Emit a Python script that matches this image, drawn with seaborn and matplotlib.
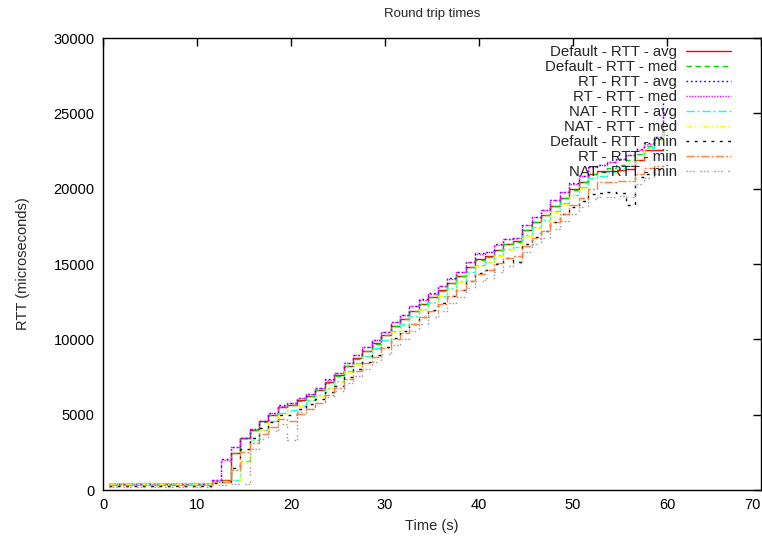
import numpy as np
import pandas as pd
import matplotlib
matplotlib.use("Agg")
import matplotlib.pyplot as plt
import seaborn as sns

# ---------------- data ----------------
time_s = [0.6, 1.6, 2.6, 3.6, 4.6, 5.6, 6.6, 7.6, 8.6, 9.6,
          10.6, 11.6, 12.6, 13.6, 14.6, 15.6, 16.6, 17.6, 18.6, 19.6,
          20.6, 21.6, 22.6, 23.6, 24.6, 25.6, 26.6, 27.6, 28.6, 29.6,
          30.6, 31.6, 32.6, 33.6, 34.6, 35.6, 36.6, 37.6, 38.6, 39.6,
          40.6, 41.6, 42.6, 43.6, 44.6, 45.6, 46.6, 47.6, 48.6, 49.6,
          50.6, 51.6, 52.6, 53.6, 54.6, 55.6, 56.6, 57.6, 58.6, 59.6]

default_avg = [400, 395, 405, 400, 398, 402, 400, 396, 404, 400,
               402, 620, 640, 2480, 3450, 4000, 4550, 5000, 5500, 5650,
               5950, 6250, 6650, 7150, 7600, 8250, 8750, 9250, 9750, 10300,
               10900, 11350, 11900, 12350, 12800, 13250, 13750, 14200, 14800, 15300,
               15500, 15950, 16350, 16500, 17250, 17800, 18250, 18850, 19400, 19950,
               20450, 21000, 21150, 21200, 21250, 21300, 21900, 22550, 22550, 22600]
default_med = [395, 390, 400, 395, 395, 400, 395, 390, 400, 395,
               400, 610, 630, 2450, 3420, 3980, 4520, 4980, 5480, 5620,
               5930, 6230, 6620, 7120, 7580, 8230, 8720, 9230, 9720, 10280,
               10880, 11330, 11880, 12330, 12780, 13230, 13730, 14180, 14780, 15280,
               15480, 15930, 16330, 16480, 17230, 17780, 18230, 18830, 19380, 19930,
               20430, 20980, 21130, 21350, 21600, 21900, 22300, 22800, 23300, 24200]
rt_avg = [430, 420, 425, 410, 430, 420, 415, 430, 425, 420,
          430, 650, 2050, 2870, 3470, 4050, 4600, 5100, 5640, 5770,
          6100, 6370, 6800, 7350, 7780, 8450, 8950, 9490, 9950, 10500,
          11170, 11610, 12200, 12650, 13050, 13540, 14050, 14490, 15150, 15700,
          15800, 16300, 16650, 16750, 17600, 18150, 18580, 19240, 19800, 20350,
          20840, 21450, 21570, 21780, 22000, 22230, 22600, 23000, 23440, 25700]
rt_med = [420, 415, 420, 405, 425, 415, 410, 425, 420, 415,
          425, 640, 2000, 2850, 3450, 4020, 4580, 5080, 5600, 5750,
          6080, 6350, 6780, 7320, 7760, 8420, 8930, 9470, 9930, 10480,
          11150, 11590, 12180, 12630, 13030, 13520, 14030, 14470, 15130, 15680,
          15780, 16280, 16630, 16730, 17580, 18130, 18560, 19220, 19780, 20330,
          20820, 21430, 21550, 21760, 21980, 22210, 22580, 22980, 23420, 25400]
nat_avg = [410, 405, 400, 405, 410, 400, 405, 410, 400, 405,
           410, 600, 620, 650, 1900, 3300, 4000, 4550, 5100, 5300,
           5600, 5950, 6300, 6800, 7250, 7900, 8400, 8900, 9400, 9950,
           10550, 11000, 11550, 12000, 12450, 12900, 13400, 13850, 14450, 14950,
           15150, 15600, 16000, 16150, 16900, 17450, 17900, 18500, 19050, 19600,
           20100, 20700, 20850, 21100, 21350, 21600, 22000, 22700, 23300, 24000]
nat_med = [400, 395, 390, 395, 400, 390, 395, 400, 395, 400,
           395, 590, 610, 640, 1850, 3250, 3950, 4500, 5050, 5250,
           5550, 5900, 6250, 6750, 7200, 7850, 8350, 8850, 9350, 9900,
           10500, 10950, 11500, 11950, 12400, 12850, 13350, 13800, 14400, 14900,
           15100, 15550, 15950, 16100, 16850, 17400, 17850, 18450, 19000, 19550,
           20050, 20650, 20800, 21050, 21300, 21550, 21950, 22600, 23200, 23800]
default_min = [290, 280, 285, 290, 280, 285, 290, 280, 285, 290,
               280, 480, 520, 1450, 2700, 3450, 4100, 4500, 4950, 5000,
               5400, 5700, 6050, 6500, 6900, 7500, 8000, 8500, 8950, 9500,
               10100, 10550, 11050, 11500, 11950, 12400, 12900, 13300, 13900, 14400,
               14600, 15000, 15400, 15100, 16300, 16800, 17200, 17800, 18300, 18800,
               19200, 19650, 19700, 19750, 19700, 18900, 20800, 21000, 21300, 21500]
rt_min = [320, 310, 315, 305, 320, 310, 315, 305, 320, 310,
          315, 500, 560, 1330, 2550, 3100, 3700, 4200, 4700, 4550,
          5050, 5400, 5800, 6300, 6750, 7400, 7900, 8400, 8850, 9400,
          10000, 10450, 11000, 11450, 11900, 12350, 12850, 13300, 13850, 14350,
          14600, 15050, 15400, 15550, 16200, 16750, 17200, 17800, 18350, 18900,
          19400, 20000, 20450, 20460, 20480, 20500, 21000, 21400, 21500, 21600]
nat_min = [230, 220, 225, 215, 230, 220, 225, 215, 230, 220,
           225, 300, 320, 380, 420, 2700, 3400, 3900, 4400, 3300,
           5200, 5400, 5750, 6150, 6550, 7100, 7550, 8050, 8500, 9050,
           9600, 10050, 10550, 11000, 11450, 11900, 12400, 12800, 13400, 13900,
           14100, 14500, 14900, 15050, 15800, 16300, 16750, 17350, 17850, 18350,
           18800, 19300, 19450, 19470, 19500, 19470, 20300, 20700, 21000, 21200]

series_names = ["Default - RTT - avg", "Default - RTT - med", "RT - RTT - avg",
                "RT - RTT - med", "NAT - RTT - avg", "NAT - RTT - med",
                "Default - RTT - min", "RT - RTT - min", "NAT - RTT - min"]
series_values = [default_avg, default_med, rt_avg, rt_med, nat_avg, nat_med,
                 default_min, rt_min, nat_min]

colors = ["#ff0000", "#00e000", "#0000ff", "#ff00ff", "#00ffff",
          "#ffff00", "#000000", "#ff8040", "#a0a0a0"]
dash_styles = ["", (4, 2.5), (1.2, 2), (1, 1), (6, 2, 1.5, 2),
               (4, 2, 1, 2, 1, 2), (2, 4), (6, 1.5, 1.5, 1.5), (1.2, 1.2, 1.2, 1.2, 1.2, 4)]

rows = []
for name, vals in zip(series_names, series_values):
    for t, v in zip(time_s, vals):
        rows.append({"time": t, "rtt": v, "series": name})
df = pd.DataFrame(rows)

# ---------------- plot ----------------
sns.set_style("white")
plt.rcParams["font.family"] = ["Liberation Sans", "DejaVu Sans"]
plt.rcParams["font.size"] = 10

fig = plt.figure(figsize=(7.62, 5.40), dpi=100)
ax = fig.add_axes([103 / 762, 1 - 490 / 540, 658 / 762, 452 / 540])

sns.lineplot(data=df, x="time", y="rtt", hue="series", style="series",
             hue_order=series_names, style_order=series_names,
             palette=dict(zip(series_names, colors)),
             dashes=dict(zip(series_names, dash_styles)),
             drawstyle="steps-post", estimator=None, errorbar=None,
             linewidth=1.0, ax=ax)

ax.set_xlim(0, 70)
ax.set_ylim(0, 30000)
ax.set_xticks(np.arange(0, 71, 10))
ax.set_yticks(np.arange(0, 30001, 5000))
ax.tick_params(direction="in", length=6, width=1, top=True, right=True,
               labelsize=10.5, colors="black", pad=6)
for sp in ax.spines.values():
    sp.set_color("black")
    sp.set_linewidth(1.0)
ax.set_xlabel("Time (s)", fontsize=10.5, labelpad=5)
ax.set_ylabel("RTT (microseconds)", fontsize=10.5, labelpad=17)
ax.set_title("Round trip times", fontsize=9.5, pad=15)

# keep the last x tick label ("70") inside the figure edge
fig.canvas.draw()
xlabels = ax.get_xticklabels()
xlabels[-1].set_horizontalalignment("right")

handles, labels = ax.get_legend_handles_labels()
leg = ax.legend(handles, labels, loc="upper right", bbox_to_anchor=(0.955, 0.985),
                frameon=False, markerfirst=False, fontsize=10.8,
                handlelength=3.0, handletextpad=0.65, labelspacing=0.07,
                borderaxespad=0, borderpad=0)
# right-align the legend rows (text right-aligned against the sample lines)
for col in leg._legend_box._children[-1]._children:
    col.align = "right"

fig.savefig("out.png", dpi=100)
